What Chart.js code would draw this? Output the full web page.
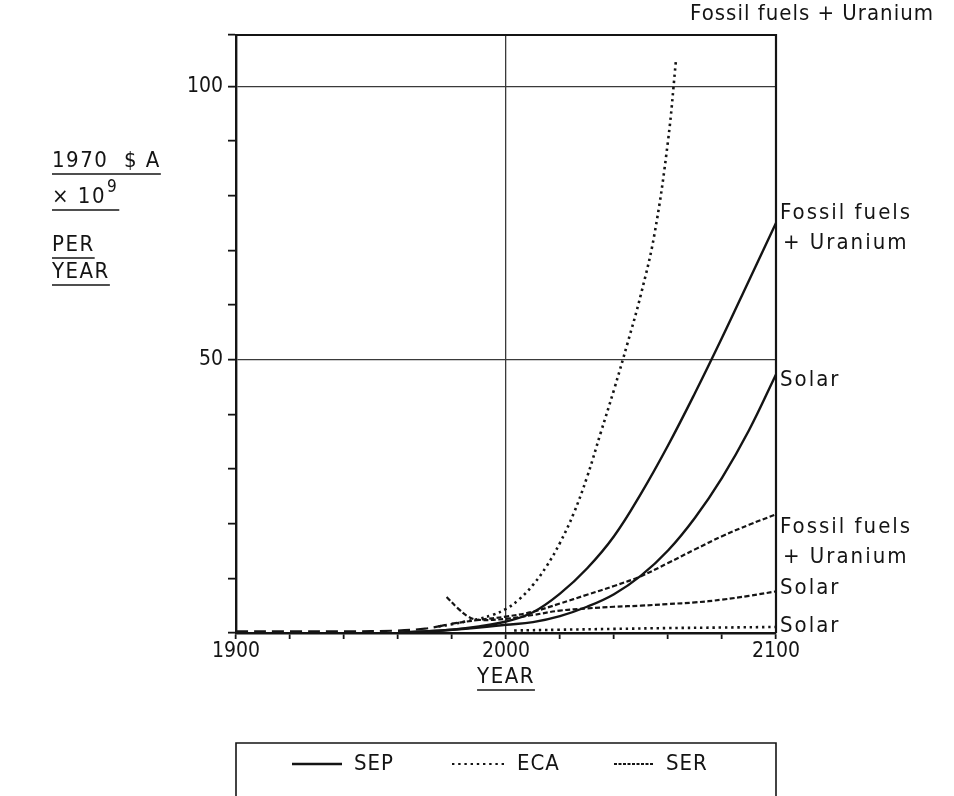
<!DOCTYPE html>
<html>
<head>
<meta charset="utf-8">
<script src="https://cdn.jsdelivr.net/npm/chart.js@4/dist/chart.umd.min.js"></script>
<style>
  html, body { margin: 0; padding: 0; background: #fff; }
  #wrap { width: 954px; height: 796px; position: relative; }
</style>
</head>
<body>
<div id="wrap"><canvas id="c" width="954" height="796"></canvas></div>
<script>
// Annual expenditure, 1970 $A x 10^9 per year, by scenario
const seriesNames = ['SEP', 'ECA', 'SER'];
const labelledYears = [1900, 2000, 2100];
const labelledValues = [50, 100];

const sepFossilYears  = [1960, 1970, 1980, 1990, 2000, 2010, 2020, 2030, 2040, 2050, 2060, 2070, 2080, 2090, 2100];
const sepFossilValues = [0.1, 0.3, 0.6, 1.2, 2.1, 3.8, 7.2, 11.8, 17.7, 25.5, 34.3, 43.9, 54, 64.5, 75];

const sepSolarYears  = [1960, 1970, 1980, 1990, 2000, 2010, 2020, 2030, 2040, 2050, 2060, 2070, 2080, 2090, 2100];
const sepSolarValues = [0.1, 0.3, 0.6, 1.0, 1.5, 2.0, 3.1, 4.8, 7.1, 10.5, 15.1, 21.1, 28.4, 37.1, 47.3];

const ecaFossilYears  = [1975, 1980, 1985, 1990, 1995, 2000, 2005, 2010, 2015, 2020, 2025, 2030, 2035, 2040, 2045, 2050, 2055, 2060, 2063];
const ecaFossilValues = [1.2, 1.6, 2.1, 2.6, 3.3, 4.4, 6.2, 8.8, 12.2, 16.5, 21.8, 28.5, 36.5, 44.5, 53, 62, 73, 90, 105];

const ecaSolarYears  = [2003, 2020, 2040, 2060, 2080, 2100];
const ecaSolarValues = [0.45, 0.6, 0.75, 0.9, 1.0, 1.1];

const serFossilYears  = [1900, 1920, 1940, 1960, 1970, 1975, 1980, 1990, 2000, 2010, 2020, 2030, 2040, 2050, 2060, 2070, 2080, 2090, 2100];
const serFossilValues = [0.3, 0.3, 0.3, 0.45, 0.8, 1.2, 1.7, 2.4, 3.0, 3.9, 5.4, 7.0, 8.6, 10.4, 12.8, 15.3, 17.7, 19.8, 21.7];

const serSolarYears  = [1978, 1982, 1986, 1990, 2000, 2010, 2020, 2030, 2040, 2050, 2060, 2070, 2080, 2090, 2100];
const serSolarValues = [6.6, 4.6, 3.0, 2.4, 2.6, 3.3, 4.1, 4.5, 4.8, 5.0, 5.3, 5.6, 6.1, 6.8, 7.6];

const INK = '#141414';
const TEXT_FONT = "'DejaVu Sans Condensed', 'DejaVu Sans', sans-serif";
const NUM_FONT = "'Liberation Sans Narrow', 'DejaVu Sans Condensed', sans-serif";

const lineStyle = {
  SEP: { borderDash: [], borderWidth: 2.4 },
  ECA: { borderDash: [2.4, 3.8], borderWidth: 2.6 },
  SER: { borderDash: [5, 2.5], borderWidth: 2.2 }
};

function points(xs, ys) { return xs.map((x, i) => ({ x: x, y: ys[i] })); }

function makeSet(family, xs, ys, endLabel, labelDy) {
  return Object.assign({
    label: family,
    family: family,
    data: points(xs, ys),
    endLabel: endLabel,
    labelDy: labelDy,
    borderColor: INK,
    backgroundColor: INK,
    pointRadius: 0,
    fill: false,
    tension: 0.4,
    borderCapStyle: 'butt'
  }, lineStyle[family]);
}

const datasets = [
  makeSet('SEP', sepFossilYears, sepFossilValues, ['Fossil fuels', '+ Uranium'], -10),
  makeSet('SEP', sepSolarYears, sepSolarValues, ['Solar'], 6),
  makeSet('ECA', ecaFossilYears, ecaFossilValues, null, 0),
  makeSet('ECA', ecaSolarYears, ecaSolarValues, ['Solar'], -1),
  makeSet('SER', serFossilYears, serFossilValues, ['Fossil fuels', '+ Uranium'], 13),
  makeSet('SER', serSolarYears, serSolarValues, ['Solar'], -3)
];
// the recorded (pre-1980) stretch is drawn with long dashes
datasets[4].segment = {
  borderDash: ctx => (ctx.p1.parsed.x <= 1980 ? [12, 6] : undefined)
};

function textLine(ctx, str, x, y, underline) {
  ctx.fillText(str, x, y);
  if (underline) {
    const w = ctx.measureText(str).width;
    ctx.beginPath();
    ctx.moveTo(x, y + 13);
    ctx.lineTo(x + w, y + 13);
    ctx.stroke();
  }
}

const decorations = {
  id: 'decorations',
  afterDraw(chart) {
    const ctx = chart.ctx;
    const a = chart.chartArea;
    ctx.save();
    ctx.strokeStyle = INK;
    ctx.fillStyle = INK;

    // top and right frame
    ctx.lineWidth = 2.2;
    ctx.beginPath();
    ctx.moveTo(a.left - 1, a.top);
    ctx.lineTo(a.right, a.top);
    ctx.lineTo(a.right, a.bottom);
    ctx.stroke();

    ctx.font = '22px ' + TEXT_FONT;
    ctx.letterSpacing = '2px';
    ctx.textBaseline = 'middle';
    ctx.textAlign = 'left';
    ctx.lineWidth = 1.5;

    // labels at the right-hand end of each curve
    chart.data.datasets.forEach((ds, i) => {
      if (!ds.endLabel) return;
      const meta = chart.getDatasetMeta(i);
      const last = meta.data[meta.data.length - 1];
      ds.endLabel.forEach((s, k) => {
        const indent = s.startsWith('+') ? 3 : 0;
        ctx.fillText(s, a.right + 4 + indent, last.y + ds.labelDy + k * 30);
      });
    });
    // the steep ECA fossil curve is named above the frame
    ctx.textAlign = 'right';
    ctx.letterSpacing = '1px';
    ctx.fillText('Fossil fuels + Uranium', chart.width - 20, a.top - 21);
    ctx.textAlign = 'left';
    ctx.letterSpacing = '1.5px';

    // y-axis title block
    const tx = a.left - 184;
    textLine(ctx, '1970  $ A', tx, a.top + 126, true);
    ctx.fillText('\u00d7 10', tx, a.top + 162);
    const w10 = ctx.measureText('\u00d7 10').width;
    ctx.font = '17px ' + TEXT_FONT;
    ctx.fillText('9', tx + w10 + 1, a.top + 153);
    const w9 = ctx.measureText('9').width;
    ctx.beginPath();
    ctx.moveTo(tx, a.top + 175);
    ctx.lineTo(tx + w10 + w9 + 2, a.top + 175);
    ctx.stroke();
    ctx.font = '22px ' + TEXT_FONT;
    textLine(ctx, 'PER', tx, a.top + 210, true);
    textLine(ctx, 'YEAR', tx, a.top + 237, true);

    // x-axis title
    const xw = ctx.measureText('YEAR').width;
    textLine(ctx, 'YEAR', (a.left + a.right) / 2 - xw / 2, a.bottom + 44, true);

    // legend box
    const boxTop = a.bottom + 110;
    ctx.lineWidth = 1.6;
    ctx.beginPath();
    ctx.moveTo(a.left, chart.height + 2);
    ctx.lineTo(a.left, boxTop);
    ctx.lineTo(a.right, boxTop);
    ctx.lineTo(a.right, chart.height + 2);
    ctx.stroke();

    ctx.letterSpacing = '1px';
    const itemX = [56, 216, 378];
    const sampleW = [50, 53, 40];
    const ly = boxTop + 21;
    seriesNames.forEach((name, j) => {
      const st = lineStyle[name];
      const x0 = a.left + itemX[j];
      ctx.save();
      ctx.lineWidth = name === 'ECA' ? 2.2 : st.borderWidth;
      ctx.setLineDash(name === 'SER' ? [3, 1.5] : st.borderDash);
      ctx.beginPath();
      ctx.moveTo(x0, ly);
      ctx.lineTo(x0 + sampleW[j], ly);
      ctx.stroke();
      ctx.restore();
      ctx.fillText(name, x0 + sampleW[j] + 12, ly);
    });
    ctx.restore();
  }
};

new Chart(document.getElementById('c'), {
  type: 'line',
  data: { datasets: datasets },
  plugins: [decorations],
  options: {
    responsive: false,
    animation: false,
    layout: { padding: { left: 0, top: 35, right: 178, bottom: 0 } },
    plugins: { legend: { display: false }, tooltip: { enabled: false } },
    scales: {
      x: {
        type: 'linear',
        min: 1900,
        max: 2100,
        afterFit: s => { s.height = 163; },
        border: { display: true, color: INK, width: 2.4 },
        grid: {
          color: c => (c.tick && c.tick.value === 2000 ? '#3a3a3a' : 'rgba(0,0,0,0)'),
          lineWidth: 1.3,
          tickColor: INK,
          tickWidth: 1.8,
          tickLength: 6,
          drawOnChartArea: true
        },
        ticks: {
          stepSize: 20,
          autoSkip: false,
          maxRotation: 0,
          padding: 0,
          color: INK,
          font: { family: NUM_FONT, size: 21 },
          callback: v => (labelledYears.includes(v) ? String(v) : '')
        }
      },
      y: {
        type: 'linear',
        min: 0,
        max: 109.4,
        afterFit: s => { s.width = 236; },
        border: { display: true, color: INK, width: 2.4 },
        grid: {
          color: c => (c.tick && labelledValues.includes(c.tick.value) ? '#3a3a3a' : 'rgba(0,0,0,0)'),
          lineWidth: 1.3,
          tickColor: INK,
          tickWidth: 1.8,
          tickLength: 8
        },
        ticks: {
          stepSize: 10,
          autoSkip: false,
          padding: 5,
          color: INK,
          font: { family: NUM_FONT, size: 21 },
          callback: v => (labelledValues.includes(v) ? String(v) : '')
        }
      }
    }
  }
});
</script>
</body>
</html>
